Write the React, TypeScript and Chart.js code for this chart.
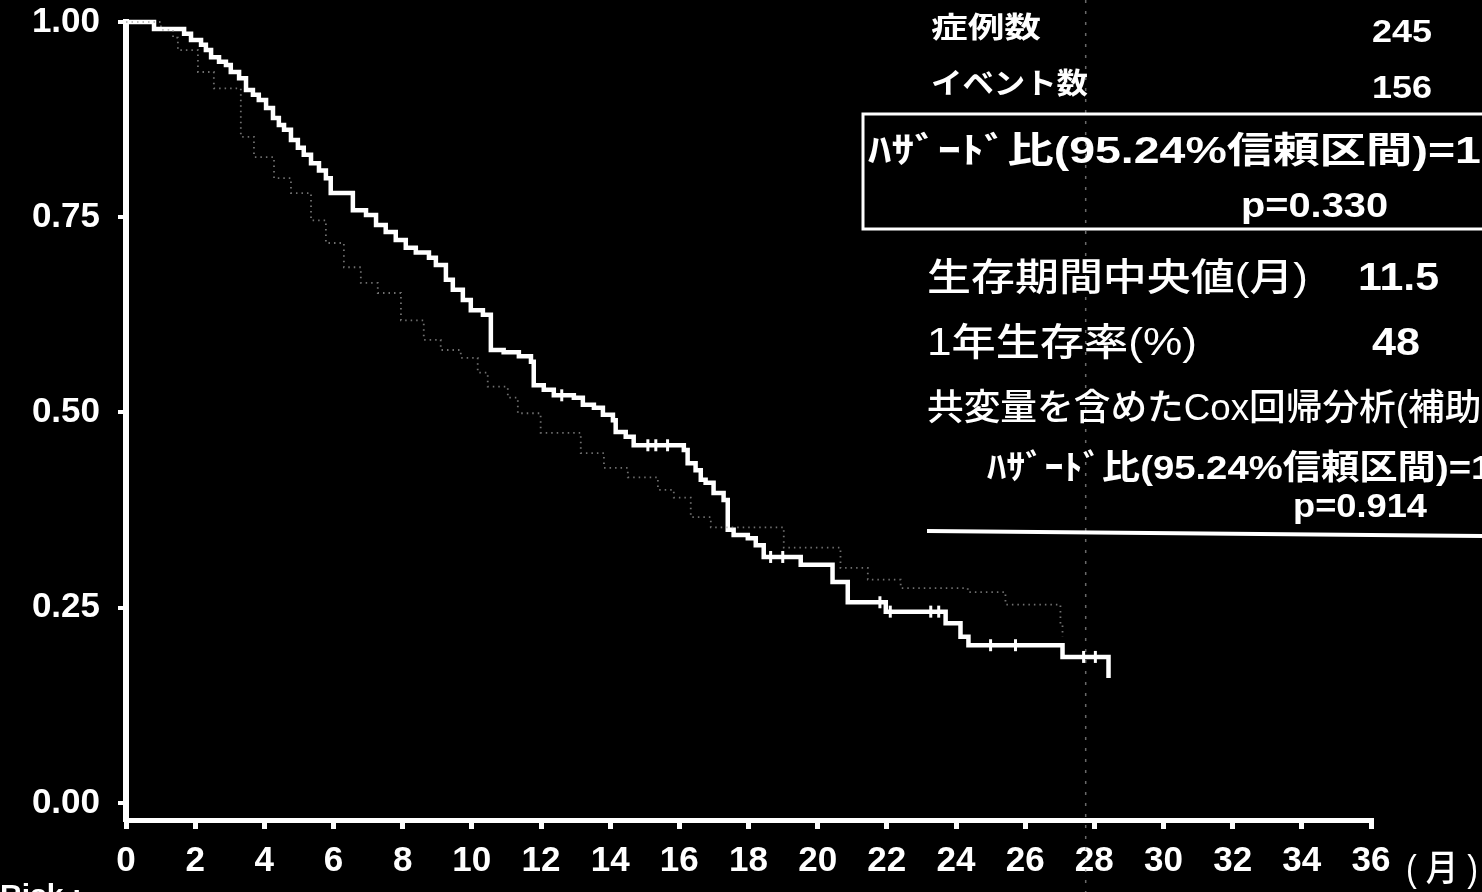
import { useEffect, useRef } from 'react';
import { Chart, registerables } from 'chart.js';

Chart.register(...registerables);

// ---- data ----
const treatTimes = [0, 0.81, 1.68, 1.88, 2.17, 2.31, 2.46, 2.69, 2.89, 3.03, 3.27, 3.47, 3.67, 3.84, 4.05, 4.25, 4.42, 4.57, 4.77, 4.97, 5.14, 5.35, 5.58, 5.78, 5.92, 6.56, 6.94, 7.23, 7.51, 7.8, 8.09, 8.38, 8.76, 8.96, 9.25, 9.45, 9.74, 9.97, 10.32, 10.55, 10.92, 11.36, 11.71, 11.79, 12.08, 12.37, 12.95, 13.21, 13.53, 13.79, 14.08, 14.16, 14.45, 14.68, 16.13, 16.24, 16.47, 16.62, 16.76, 16.99, 17.28, 17.4, 17.57, 17.98, 18.21, 18.44, 19.51, 20.43, 20.87, 21.97, 23.7, 24.13, 24.36, 27.08, 28.41];
const treatSurv = [1.0, 0.991, 0.985, 0.977, 0.971, 0.964, 0.955, 0.949, 0.945, 0.936, 0.928, 0.913, 0.907, 0.9, 0.89, 0.877, 0.868, 0.862, 0.849, 0.839, 0.83, 0.819, 0.81, 0.8, 0.781, 0.759, 0.753, 0.74, 0.731, 0.721, 0.711, 0.705, 0.698, 0.689, 0.67, 0.657, 0.644, 0.631, 0.625, 0.58, 0.577, 0.572, 0.565, 0.535, 0.529, 0.522, 0.519, 0.51, 0.506, 0.497, 0.49, 0.475, 0.469, 0.458, 0.452, 0.435, 0.426, 0.414, 0.41, 0.397, 0.388, 0.35, 0.343, 0.339, 0.33, 0.315, 0.305, 0.283, 0.257, 0.245, 0.23, 0.213, 0.202, 0.187, 0.16];
const treatCensored = [12.6, 15.09, 15.32, 15.66, 18.64, 18.99, 21.8, 22.1, 23.27, 23.5, 25.0, 25.72, 27.69, 28.03];

const ctrlTimes = [0, 1.01, 1.36, 1.5, 2.08, 2.54, 3.32, 3.7, 4.28, 4.77, 5.35, 5.78, 6.3, 6.79, 7.28, 7.95, 8.61, 9.1, 9.68, 10.17, 10.46, 11.04, 11.33, 11.99, 13.15, 13.82, 14.51, 15.38, 15.84, 16.33, 16.91, 19.02, 20.66, 21.45, 22.4, 24.34, 25.43, 27.02, 27.08];
const ctrlSurv = [1.0, 0.99, 0.98, 0.964, 0.936, 0.915, 0.853, 0.827, 0.8, 0.781, 0.746, 0.717, 0.686, 0.666, 0.653, 0.618, 0.593, 0.58, 0.57, 0.551, 0.533, 0.519, 0.499, 0.474, 0.448, 0.429, 0.417, 0.401, 0.391, 0.366, 0.353, 0.327, 0.301, 0.286, 0.275, 0.27, 0.254, 0.228, 0.213];

const yTickValues = [0, 0.25, 0.5, 0.75, 1.0];
const xMin = 0;
const xMax = 36;
const xStep = 2;
const scanLineMonth = 27.75;

const textCases = '症例数';
const textCasesVal = '245';
const textEvents = 'イベント数';
const textEventsVal = '156';
const textHR1 = 'ﾊｻﾞｰﾄﾞ比(95.24%信頼区間)=1.';
const textP1 = 'p=0.330';
const textMedian = '生存期間中央値(月)';
const textMedianVal = '11.5';
const textYear = '1年生存率(%)';
const textYearVal = '48';
const textCox = '共変量を含めたCox回帰分析(補助解析)';
const textHR2 = 'ﾊｻﾞｰﾄﾞ比(95.24%信頼区間)=1';
const textP2 = 'p=0.914';
const textUnit = '( 月 )';
const textRisk = 'Risk :';

const FONT = '"Liberation Sans", "Noto Sans CJK JP", sans-serif';

function stepValue(times: number[], surv: number[], t: number) {
  let v = surv[0];
  for (let i = 0; i < times.length; i++) if (times[i] <= t) v = surv[i];
  return v;
}

function drawText(
  ctx: CanvasRenderingContext2D,
  s: string,
  x: number,
  cy: number,
  size: number,
  weight: string | number,
  fitWidth?: number,
  fitText?: string
) {
  ctx.save();
  ctx.font = `${weight} ${size}px ${FONT}`;
  ctx.textBaseline = 'middle';
  ctx.textAlign = 'left';
  ctx.fillStyle = '#ffffff';
  let sx = 1;
  if (fitWidth) {
    const w = ctx.measureText(fitText ?? s).width;
    if (w > 0) sx = fitWidth / w;
  }
  ctx.translate(x, cy);
  ctx.scale(sx, 1);
  ctx.fillText(s, 0, 0);
  ctx.restore();
}

const bgPlugin = {
  id: 'bg',
  beforeDraw(chart: any) {
    const ctx = chart.ctx as CanvasRenderingContext2D;
    ctx.save();
    ctx.fillStyle = '#000000';
    ctx.fillRect(0, 0, chart.width, chart.height);
    ctx.restore();
  },
  beforeDatasetsDraw(chart: any) {
    const ctx = chart.ctx as CanvasRenderingContext2D;
    const xs = chart.scales.x;
    const px = xs.getPixelForValue(scanLineMonth);
    ctx.save();
    ctx.strokeStyle = 'rgba(150,150,150,0.7)';
    ctx.lineWidth = 1.5;
    ctx.setLineDash([3, 8]);
    ctx.beginPath();
    ctx.moveTo(px, 0);
    ctx.lineTo(px, chart.height);
    ctx.stroke();
    ctx.restore();
  },
};

const annotationPlugin = {
  id: 'annot',
  afterDraw(chart: any) {
    const ctx = chart.ctx as CanvasRenderingContext2D;
    drawText(ctx, textCases, 931, 30, 29, 700, 110);
    drawText(ctx, textCasesVal, 1372, 33, 31, 700, 60);
    drawText(ctx, textEvents, 931, 86, 29, 700, 157);
    drawText(ctx, textEventsVal, 1372, 89, 31, 700, 60);

    ctx.save();
    ctx.strokeStyle = '#ffffff';
    ctx.lineWidth = 3;
    ctx.strokeRect(863, 114, 700, 115);
    ctx.restore();

    drawText(ctx, textHR1, 868, 153, 36, 700, 587, 'ﾊｻﾞｰﾄﾞ比(95.24%信頼区間)=');
    drawText(ctx, textP1, 1241, 207, 35, 700, 147);

    drawText(ctx, textMedian, 927, 280, 38, 500, 381);
    drawText(ctx, textMedianVal, 1358, 280, 38, 700, 81);
    drawText(ctx, textYear, 927, 345, 38, 500, 270);
    drawText(ctx, textYearVal, 1372, 345, 38, 700, 48);
    drawText(ctx, textCox, 927, 410, 36, 500, 481, '共変量を含めたCox回帰分析(');
    drawText(ctx, textHR2, 987, 470, 34, 700, 484, 'ﾊｻﾞｰﾄﾞ比(95.24%信頼区間)=');
    drawText(ctx, textP2, 1293, 508, 33, 700, 134);

    ctx.save();
    ctx.strokeStyle = '#ffffff';
    ctx.lineWidth = 4;
    ctx.beginPath();
    ctx.moveTo(927, 531);
    ctx.lineTo(1482, 536);
    ctx.stroke();
    ctx.restore();

    drawText(ctx, textUnit, 1406, 871, 36, 500, 72);

    ctx.save();
    ctx.font = `700 30px ${FONT}`;
    ctx.fillStyle = '#ffffff';
    ctx.textBaseline = 'alphabetic';
    ctx.fillText(textRisk, 0, 905);
    ctx.restore();
  },
};

export default function App() {
  const ref = useRef<HTMLCanvasElement | null>(null);

  useEffect(() => {
    document.body.style.margin = '0';
    document.body.style.background = '#000';
    const canvas = ref.current;
    if (!canvas) return;
    const tickFont = { family: '"Liberation Sans", Arial, sans-serif', size: 35, weight: 'bold' as const };
    const chart = new Chart(canvas, {
      type: 'line',
      data: {
        datasets: [
          {
            label: 'control',
            data: ctrlTimes.map((t, i) => ({ x: t, y: ctrlSurv[i] })),
            stepped: true,
            borderColor: 'rgba(160,160,160,0.7)',
            borderWidth: 1.8,
            borderDash: [1.5, 4],
            pointRadius: 0,
            fill: false,
            clip: false as any,
          },
          {
            label: 'treatment',
            data: treatTimes.map((t, i) => ({ x: t, y: treatSurv[i] })),
            stepped: true,
            borderColor: '#ffffff',
            borderWidth: 4.5,
            pointRadius: 0,
            fill: false,
            clip: false as any,
          },
          {
            type: 'scatter' as any,
            label: 'censored',
            data: treatCensored.map((t) => ({ x: t, y: stepValue(treatTimes, treatSurv, t) })),
            showLine: false,
            pointStyle: 'line',
            rotation: 90,
            pointRadius: 6,
            pointBorderWidth: 3,
            borderColor: '#ffffff',
            backgroundColor: '#ffffff',
            clip: false as any,
          } as any,
        ],
      },
      options: {
        responsive: false,
        animation: false,
        events: [],
        layout: { padding: { top: 22, right: 111, bottom: 0, left: 0 } },
        plugins: { legend: { display: false }, tooltip: { enabled: false } },
        scales: {
          x: {
            type: 'linear',
            min: xMin,
            max: xMax,
            ticks: {
              stepSize: xStep,
              color: '#ffffff',
              font: tickFont,
              padding: 11,
              maxRotation: 0,
              autoSkip: false,
              callback: (v: any) => String(v),
            },
            grid: { drawOnChartArea: false, drawTicks: true, tickLength: 9, color: '#ffffff', lineWidth: 5 },
            border: { display: true, color: '#ffffff', width: 5 },
            afterFit: (s: any) => {
              s.height = 72;
              s.paddingLeft = 0;
              s.paddingRight = 0;
            },
          },
          y: {
            type: 'linear',
            min: -0.0218,
            max: 1.0,
            afterBuildTicks: (s: any) => {
              s.ticks = yTickValues.map((v) => ({ value: v }));
            },
            ticks: {
              color: '#ffffff',
              font: tickFont,
              padding: 18,
              callback: (v: any) => Number(v).toFixed(2),
            },
            grid: { drawOnChartArea: false, drawTicks: true, tickLength: 8, color: '#ffffff', lineWidth: 4 },
            border: { display: true, color: '#ffffff', width: 6 },
            afterFit: (s: any) => {
              s.width = 126;
              s.paddingTop = 0;
              s.paddingBottom = 0;
            },
          },
        },
      },
      plugins: [bgPlugin, annotationPlugin],
    });
    return () => chart.destroy();
  }, []);

  return (
    <div style={{ width: 1482, height: 892, overflow: 'hidden', background: '#000' }}>
      <canvas ref={ref} width={1482} height={892} style={{ display: 'block', width: 1482, height: 892 }} />
    </div>
  );
}
